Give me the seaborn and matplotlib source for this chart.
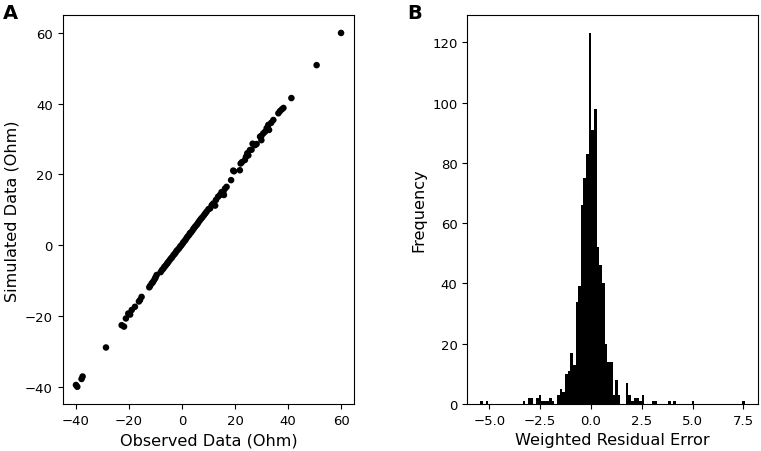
import numpy as np
import pandas as pd
import matplotlib
matplotlib.use("Agg")
import matplotlib.pyplot as plt
import seaborn as sns

# Panel A: observed vs simulated impedance (Ohm)
observed = [
    59.9, 50.7, 41.2, 38.2, 37.6, 36.9, 36.3, 34.4, 33.6, 32.5, 31.9, 32.8,
    31.3, 30.6, 29.9, 29.4, 29.9, 28.1, 27.5, 26.6, 26.2, 25.6, 24.6, 25.0,
    24.1, 23.7, 22.6, 22.1, 21.8, 19.6, 19.3, 18.5, 16.8, 16.2, 15.6, 15.8,
    14.9, 14.3, 13.6, 12.8, 12.5, 11.8, 11.2, 10.6, 10.0, 9.3, 8.8, 8.3,
    7.7, 7.2, 6.8, 6.3, 5.9, 5.5, 5.0, 4.6, 4.3, 3.9, 3.4, 3.0, 2.7, 2.2,
    1.8, 1.4, 1.0, 0.5, 0.2, -0.3, -0.7, -1.1, -1.6, -2.0, -2.4, -2.8,
    -3.2, -3.7, -4.1, -4.5, -5.0, -5.4, -5.7, -6.2, -6.6, -7.0, -7.5, -8.0,
    -9.5, -9.9, -10.1, -10.6, -11.0, -11.4, -12.0, -12.3,
    -15.2, -15.8, -16.2, -17.7, -18.9, -20.2, -19.5, -21.1, -22.7, -21.8,
    -28.6, -37.4, -37.8, -39.9, -39.4,
]
simulated = [
    60.0, 50.9, 41.6, 38.8, 38.4, 37.9, 37.3, 35.4, 34.6, 34.0, 33.1, 32.6,
    32.1, 31.6, 30.9, 30.7, 29.7, 28.6, 28.3, 28.7, 27.0, 26.9, 26.0, 25.4,
    25.0, 24.1, 23.5, 23.1, 21.2, 20.9, 21.1, 18.4, 16.5, 16.0, 15.1, 14.2,
    15.0, 14.2, 13.7, 12.8, 11.2, 11.8, 11.3, 10.4, 10.2, 9.5, 9.0, 8.5,
    7.9, 7.5, 7.1, 6.6, 6.1, 5.7, 5.3, 4.9, 4.6, 4.1, 3.6, 3.4, 2.9, 2.5,
    2.1, 1.6, 1.2, 0.8, 0.4, -0.1, -0.4, -0.9, -1.3, -1.6, -2.1, -2.5,
    -2.8, -3.4, -3.7, -4.1, -4.6, -5.0, -5.3, -5.8, -6.1, -6.6, -7.0, -7.6,
    -8.4, -9.0, -9.4, -10.0, -10.5, -10.8, -11.5, -11.9,
    -14.6, -15.5, -15.9, -17.4, -18.3, -19.3, -19.6, -20.7, -22.6, -23.0,
    -28.9, -37.1, -37.8, -39.5, -40.0,
]

# Panel B: histogram of weighted residuals (100 bins), counts read per bin
resid_min, resid_max = -5.43, 7.56
bin_counts = [
    1, 0, 1, 0, 0, 0, 0, 0, 0, 0,
    0, 0, 0, 0, 0, 0, 1, 0, 2, 2,
    0, 2, 3, 1, 1, 1, 2, 1, 0, 3,
    5, 4, 10, 11, 17, 13, 34, 39, 66, 75,
    83, 123, 91, 98, 52, 46, 40, 20, 14, 14,
    3, 8, 3, 0, 0, 7, 3, 1, 2, 2,
    1, 3, 0, 0, 0, 1, 1, 0, 0, 0,
    0, 1, 0, 1, 0, 0, 0, 0, 0, 0,
    1, 0, 0, 0, 0, 0, 0, 0, 0, 0,
    0, 0, 0, 0, 0, 0, 0, 0, 0, 1,
]

scatter_df = pd.DataFrame({"observed": observed, "simulated": simulated})
edges = np.linspace(resid_min, resid_max, len(bin_counts) + 1)
centers = (edges[:-1] + edges[1:]) / 2
hist_df = pd.DataFrame({"residual": centers, "count": bin_counts})

tick_size = 9.5
label_size = 11.6

fig = plt.figure(figsize=(7.61, 4.52), dpi=100)
ax_a = fig.add_axes([0.0824, 0.103, 0.3832, 0.861])
ax_b = fig.add_axes([0.614, 0.104, 0.3818, 0.861])

sns.scatterplot(data=scatter_df, x="observed", y="simulated", ax=ax_a,
                color="black", s=22, edgecolor="none")
ax_a.set_xlabel("Observed Data (Ohm)", fontsize=label_size)
ax_a.set_ylabel("Simulated Data (Ohm)", fontsize=label_size)
ax_a.set_xticks([-40, -20, 0, 20, 40, 60])
ax_a.set_yticks([-40, -20, 0, 20, 40, 60])
ax_a.tick_params(labelsize=tick_size)

sns.histplot(data=hist_df, x="residual", weights="count", bins=edges.tolist(),
             ax=ax_b, color="black", alpha=1, linewidth=0)
ax_b.set_xlim(resid_min - 0.05 * (resid_max - resid_min),
              resid_max + 0.05 * (resid_max - resid_min))
ax_b.set_ylim(0, max(bin_counts) * 1.05)
ax_b.set_xticks([-5.0, -2.5, 0.0, 2.5, 5.0, 7.5])
ax_b.set_yticks([0, 20, 40, 60, 80, 100, 120])
ax_b.set_xlabel("Weighted Residual Error", fontsize=label_size)
ax_b.set_ylabel("Frequency", fontsize=label_size)
ax_b.tick_params(labelsize=tick_size)

fig.text(0.004, 0.992, "A", fontsize=14, fontweight="bold", va="top", ha="left")
fig.text(0.535, 0.992, "B", fontsize=14, fontweight="bold", va="top", ha="left")

fig.savefig("out.png", dpi=100)
